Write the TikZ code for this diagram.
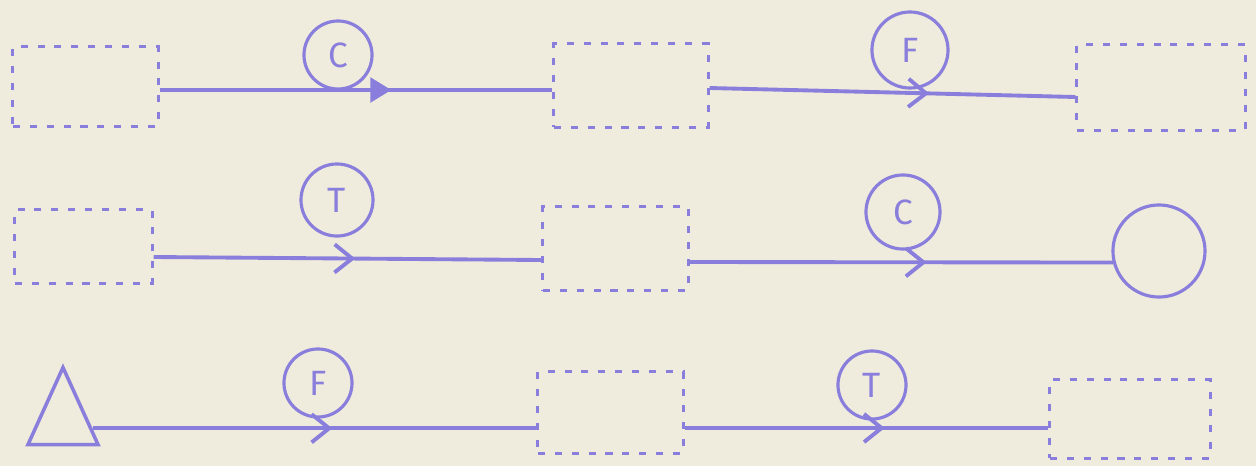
\documentclass[tikz,border=0pt]{standalone}
\usepackage{fontspec}
\setmainfont{Fira Sans}
\usetikzlibrary{arrows.meta, positioning, shapes.geometric, decorations.markings, calc}
\definecolor{ink}{RGB}{138,126,220}
\definecolor{paper}{RGB}{239,235,221}

\begin{document}
\begin{tikzpicture}[x=0.01cm, y=-0.01cm,
  box/.style={rectangle, draw=ink, dash pattern=on 2pt off 2.8pt, line width=0.85pt, inner sep=0pt},
  endpt/.style={circle, draw=ink, line width=0.9pt, minimum size=0.92cm, inner sep=0pt},
  tri/.style={isosceles triangle, shape border rotate=90, isosceles triangle stretches,
              draw=ink, line width=1pt, minimum width=0.7cm, minimum height=0.77cm, inner sep=0pt},
  tag/.style={circle, draw=ink, line width=0.9pt, minimum size=0.68cm, inner sep=0pt,
              text=ink, font=\normalsize},
  conn/.style={draw=ink, line width=1.1pt, postaction={decorate}},
  barb/.style={decoration={markings, mark=at position #1 with
               {\arrow{Straight Barb[length=5pt, width=8pt, line width=1.1pt]}}}},
  head/.style={decoration={markings, mark=at position #1 with
               {\arrow{Triangle[length=6pt, width=7pt]}}}}]
  \fill[paper] (0,0) rectangle (1256,466);
  \useasboundingbox (0,0) rectangle (1256,466);

  % row 1
  \node[box, minimum width=1.45cm, minimum height=0.79cm] (a1) at (85.5,86.5) {};
  \node[box, minimum width=1.54cm, minimum height=0.83cm] (b1) at (631,85.5) {};
  \node[box, minimum width=1.68cm, minimum height=0.85cm] (c1) at (1161,87.5) {};
  \node[tag] (lc1) at (338,55) {C};
  \node[tag, minimum size=0.76cm] (lf1) at (910,50) {F};
  \draw[conn, head=0.59] ($(a1.east)+(0,3.5)$) -- ($(b1.west)+(0,4.5)$);
  \draw[conn, barb=0.6] ($(b1.east)+(0,2.5)$) -- ($(c1.west)+(0,9.5)$);

  % row 2
  \node[box, minimum width=1.37cm, minimum height=0.73cm] (a2) at (83.5,246.5) {};
  \node[box, minimum width=1.45cm, minimum height=0.83cm] (b2) at (615.5,248.5) {};
  \node[endpt] (e2) at (1159,251) {};
  \node[tag, minimum size=0.72cm] (lt2) at (337,200) {T};
  \node[tag, minimum size=0.74cm] (lc2) at (903,212) {C};
  \draw[conn, barb=0.52] ($(a2.east)+(0,10.5)$) -- ($(b2.west)+(0,11.5)$);
  \draw[conn, barb=0.56] ($(b2.east)+(0,13.5)$) -- (e2.194);

  % row 3
  \node[tri] (t3) at (63,422) {};
  \node[box, minimum width=1.45cm, minimum height=0.81cm] (b3) at (610.5,412.5) {};
  \node[box, minimum width=1.60cm, minimum height=0.78cm] (c3) at (1130,419) {};
  \node[tag] (lf3) at (318,383) {F};
  \node[tag] (lt3) at (872,385) {T};
  \draw[conn, barb=0.54] (t3.-12) -- (t3.-12 -| b3.west);
  \draw[conn, barb=0.55] ($(b3.east)+(0,15.5)$) -- ($(c3.west)+(0,9)$);
\end{tikzpicture}
\end{document}
